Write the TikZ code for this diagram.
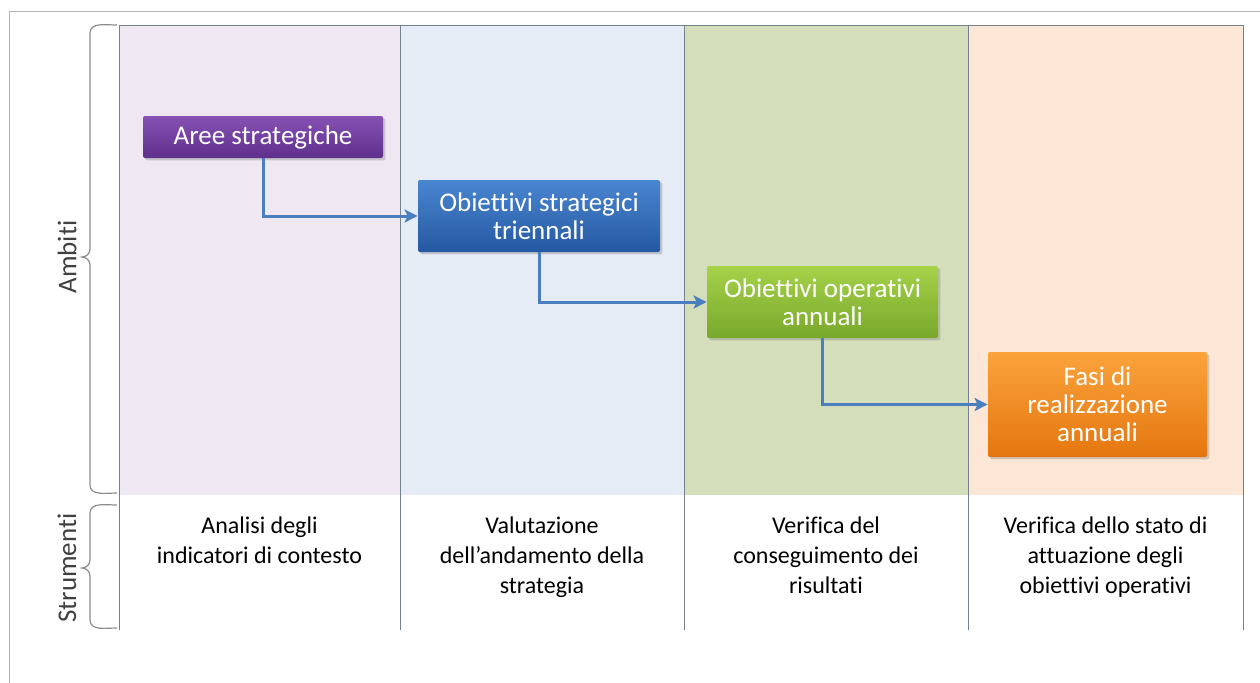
\documentclass[tikz,border=0pt]{standalone}
\usepackage{fontspec}
\setmainfont{Carlito}[Ligatures=NoCommon]
\usetikzlibrary{shadows,arrows.meta}

\definecolor{lavband}{HTML}{EFE8F3}
\definecolor{blueband}{HTML}{E5ECF6}
\definecolor{greenband}{HTML}{D4DEBB}
\definecolor{peachband}{HTML}{FCE7D6}
\definecolor{gridline}{HTML}{74828F}
\definecolor{flowblue}{HTML}{4A7EBE}
\definecolor{purpletop}{HTML}{8652B4}
\definecolor{purplebot}{HTML}{5F2F8C}
\definecolor{bluetop}{HTML}{4A86D0}
\definecolor{bluebot}{HTML}{2558A2}
\definecolor{greentop}{HTML}{A6D249}
\definecolor{greenbot}{HTML}{78A82C}
\definecolor{orangetop}{HTML}{FBA33C}
\definecolor{orangebot}{HTML}{E5760F}

\begin{document}
\begin{tikzpicture}[x=0.5pt, y=-0.5pt,
  stage/.style={rectangle, rounded corners=1pt, align=center, text=white,
    font=\fontsize{13.5}{14}\selectfont, inner sep=2pt,
    drop shadow={opacity=0.35, shadow xshift=1.2pt, shadow yshift=-1.2pt}},
  flow/.style={draw=flowblue, line width=1.5pt, -{Stealth[length=6.5pt, width=6.5pt, inset=1.5pt]}},
  tool/.style={align=center, anchor=north, font=\fontsize{12}{15}\selectfont},
  side/.style={rotate=90, text=black!75, font=\fontsize{13.5}{16}\selectfont}]
\useasboundingbox (0,0) rectangle (1260,682);
% outer frame
\draw[black!30] (1262,11) -- (9,11) -- (9,684);
% coloured bands
\fill[lavband] (119,25) rectangle (400,495);
\fill[blueband] (400,25) rectangle (684,495);
\fill[greenband] (684,25) rectangle (968,495);
\fill[peachband] (968,25) rectangle (1243,495);
\draw[gridline] (119,25) -- (1243,25);
\foreach \x in {119, 400, 684, 968, 1243}
  \draw[gridline] (\x,25) -- (\x,630);
% braces
\draw[black!45, line width=0.6pt] (117,25) to[out=180,in=90] (90,33) -- (90,249)
  to[out=-90,in=0] (82,257) to[out=0,in=90] (90,265) -- (90,485) to[out=-90,in=180] (117,493);
\draw[black!45, line width=0.6pt] (117,505) to[out=180,in=90] (90,513) -- (90,560)
  to[out=-90,in=0] (82,568) to[out=0,in=90] (90,576) -- (90,620) to[out=-90,in=180] (117,628);
\node[side] (ambiti) at (67,257) {Ambiti};
\node[side] (strumenti) at (67,568) {Strumenti};
% stages
\node[stage, minimum width=120pt, minimum height=21pt,
  top color=purpletop, bottom color=purplebot] (aree) at (263,137) {Aree strategiche};
\node[stage, minimum width=121pt, minimum height=36pt,
  top color=bluetop, bottom color=bluebot] (obst) at (539,216) {Obiettivi strategici\\triennali};
\node[stage, minimum width=115.5pt, minimum height=36pt,
  top color=greentop, bottom color=greenbot] (obop) at (822.5,302) {Obiettivi operativi\\annuali};
\node[stage, minimum width=109.5pt, minimum height=52.5pt,
  top color=orangetop, bottom color=orangebot] (fasi) at (1097.5,404.5) {Fasi di\\realizzazione\\annuali};
% connectors
\draw[flow] (aree.south) |- (obst.west);
\draw[flow] (obst.south) |- (obop.west);
\draw[flow] (obop.south) |- (fasi.west);
% tools
\node[tool] (t1) at (259.5,510) {Analisi degli\\indicatori di contesto};
\node[tool] (t2) at (542,510) {Valutazione\\dell’andamento della\\strategia};
\node[tool] (t3) at (826,510) {Verifica del\\conseguimento dei\\risultati};
\node[tool] (t4) at (1105.5,510) {Verifica dello stato di\\attuazione degli\\obiettivi operativi};
\end{tikzpicture}
\end{document}
